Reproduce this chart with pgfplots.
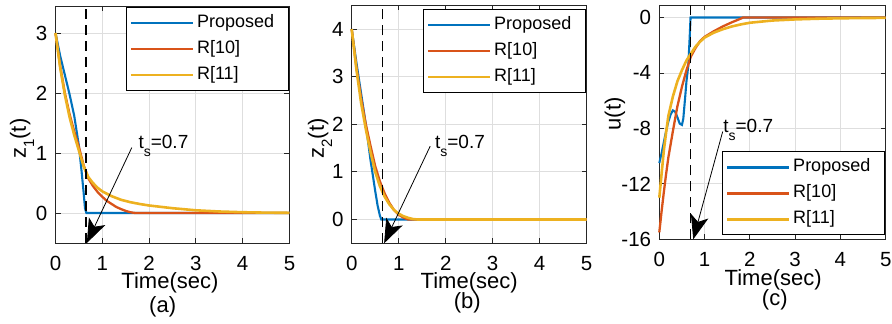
\documentclass[border=0pt]{standalone}
\usepackage{fontspec}
\setmainfont{Liberation Sans}
\usepackage{pgfplots}
\pgfplotsset{compat=1.18}
\usetikzlibrary{arrows.meta}
\definecolor{mblue}{rgb}{0,0.447,0.741}
\definecolor{mred}{rgb}{0.85,0.325,0.098}
\definecolor{myel}{rgb}{0.929,0.694,0.125}
\newcommand{\tickfont}{\fontsize{20.5}{24}\selectfont}
\newcommand{\labfont}{\fontsize{22}{26}\selectfont}
\newcommand{\legfont}{\fontsize{18}{20}\selectfont}
\newcommand{\annfont}{\fontsize{19}{22}\selectfont}
\newcommand{\sub}[1]{\raisebox{-0.38em}{\fontsize{15}{15}\selectfont #1}}
\newcommand{\annsub}[1]{\raisebox{-0.42em}{\fontsize{14}{14}\selectfont #1}}
\tikzset{
  dashl/.style={black, line width=1.3pt, dash pattern=on 10pt off 6pt},
  arr/.style={black, line width=0.8pt, -{Stealth[length=24pt,width=18pt,inset=6pt]}},
}
\pgfplotsset{
  myax/.style={
    scale only axis,
    xmin=0, xmax=5,
    xtick={0,1,2,3,4,5},
    grid=major,
    major grid style={black!13, line width=0.8pt},
    axis line style={black!85, line width=0.8pt},
    tick align=inside,
    major tick length=5pt,
    tick style={black!85, line width=0.8pt},
    /pgf/number format/assume math mode=true,
    tick label style={font=\tickfont},
    xticklabel style={inner sep=0pt, yshift=-13pt},
    yticklabel style={inner sep=0pt, xshift=-8pt},
    label style={font=\labfont},
    clip=false,
    legend cell align=left,
    legend style={draw=black, line width=0.8pt, font=\legfont,
      inner xsep=3.5pt, inner ysep=5pt, row sep=5pt, column sep=1pt,
      nodes={inner sep=2pt, text height=13pt, text depth=4pt, font=\legfont}},
    legend image code/.code={\draw[##1, line width=2.3pt] (0pt,0pt) -- (62pt,0pt);},
  },
  pblue/.style={mblue, line width=2.1pt},
  pred/.style={mred, line width=2.3pt},
  pyel/.style={myel, line width=2.6pt},
}
\begin{document}
\begin{tikzpicture}
\path[use as bounding box] (0pt,0pt) rectangle (892pt,324pt);
% ---------------- (a)
\begin{axis}[myax, at={(55.5pt,81pt)}, anchor=south west,
  width=234pt, height=237pt, ymin=-0.5, ymax=3.45, ytick={0,1,2,3},
  xlabel={Time(sec)}, xlabel style={at={(axis description cs:0.489,-0.167)}, anchor=center},
  ylabel={z\sub{1}(t)}, ylabel style={at={(axis description cs:-0.143,0.44)}, anchor=center},
  legend style={at={(1,1)}, anchor=north east, xshift=-0.5pt, yshift=-1.3pt}]
\addplot[pblue] coordinates {(0,3) (0.1,2.62) (0.2,2.3) (0.3,1.98) (0.4,1.62) (0.5,1.12) (0.55,0.75) (0.6,0.35) (0.63,0.08) (0.66,0) (1,0) (2,0) (3,0) (4,0) (5,0)};
\addplot[pred] coordinates {(0,3) (0.1,2.45) (0.2,2.0) (0.3,1.65) (0.4,1.36) (0.5,1.1) (0.6,0.8) (0.7,0.58) (0.8,0.45) (0.9,0.35) (1.0,0.27) (1.1,0.2) (1.2,0.15) (1.3,0.1) (1.4,0.065) (1.5,0.035) (1.6,0.012) (1.7,0) (2,0) (3,0) (4,0) (5,0)};
\addplot[pyel] coordinates {(0,3) (0.1,2.42) (0.2,1.97) (0.3,1.6) (0.4,1.3) (0.5,1.04) (0.6,0.78) (0.7,0.6) (0.8,0.5) (0.9,0.42) (1.0,0.36) (1.2,0.28) (1.4,0.22) (1.6,0.18) (1.8,0.15) (2.0,0.125) (2.5,0.08) (3,0.045) (3.5,0.025) (4,0.013) (4.5,0.006) (5,0.003)};
\legend{Proposed\hspace*{9pt},R[10],R[11]}
\draw[dashl] (axis cs:0.65,-0.5) -- (axis cs:0.65,3.45);
\draw[arr] (axis cs:1.63,1.09) -- (axis cs:0.67,-0.5);
\node[anchor=base west, inner sep=0pt, font=\annfont] at (axis cs:1.77,1.07) {t\annsub{s}=0.7};
\node[font=\labfont] at (axis description cs:0.458,-0.27) {(a)};
\end{axis}
% ---------------- (b)
\begin{axis}[myax, at={(351.7pt,80.7pt)}, anchor=south west,
  width=235pt, height=238pt, ymin=-0.5, ymax=4.5, ytick={0,1,2,3,4},
  xlabel={Time(sec)}, xlabel style={at={(axis description cs:0.5,-0.168)}, anchor=center},
  ylabel={z\sub{2}(t)}, ylabel style={at={(axis description cs:-0.135,0.44)}, anchor=center},
  legend style={at={(1,1)}, anchor=north east, xshift=-0.5pt, yshift=-4pt}]
\addplot[pblue] coordinates {(0,4) (0.1,3.3) (0.2,2.65) (0.3,2.0) (0.4,1.25) (0.5,0.6) (0.55,0.3) (0.6,0.08) (0.63,0) (1,0) (2,0) (3,0) (4,0) (5,0)};
\addplot[pred] coordinates {(0,4) (0.1,3.2) (0.2,2.55) (0.3,2.0) (0.4,1.55) (0.5,1.12) (0.6,0.8) (0.7,0.55) (0.8,0.35) (0.9,0.2) (1.0,0.1) (1.1,0.04) (1.2,0) (2,0) (3,0) (4,0) (5,0)};
\addplot[pyel] coordinates {(0,4) (0.1,3.15) (0.2,2.45) (0.3,1.9) (0.4,1.42) (0.5,1.0) (0.6,0.7) (0.7,0.48) (0.8,0.32) (0.9,0.2) (1.0,0.12) (1.1,0.07) (1.2,0.035) (1.3,0.01) (1.4,0) (2,0) (3,0) (4,0) (5,0)};
\legend{Proposed\hspace*{9pt},R[10],R[11]}
\draw[dashl] (axis cs:0.66,-0.5) -- (axis cs:0.66,4.5);
\draw[arr] (axis cs:1.67,1.54) -- (axis cs:0.69,-0.5);
\node[anchor=base west, inner sep=0pt, font=\annfont] at (axis cs:1.77,1.5) {t\annsub{s}=0.7};
\node[font=\labfont] at (axis description cs:0.492,-0.25) {(b)};
\end{axis}
% ---------------- (c)
\begin{axis}[myax, at={(659.3pt,84.7pt)}, anchor=south west,
  width=226.4pt, height=234.3pt, ymin=-16, ymax=0.9, ytick={0,-4,-8,-12,-16},
  xlabel={Time(sec)}, xlabel style={at={(axis description cs:0.503,-0.174)}, anchor=center},
  ylabel={u(t)}, ylabel style={at={(axis description cs:-0.196,0.535)}, anchor=center},
  legend style={at={(1,0)}, anchor=south east, xshift=-0.5pt, yshift=4pt}]
\addplot[pblue] coordinates {(0,-10.5) (0.05,-9.8) (0.1,-9.0) (0.15,-8.2) (0.2,-7.5) (0.25,-7.0) (0.3,-6.7) (0.35,-6.8) (0.4,-7.2) (0.45,-7.65) (0.5,-7.75) (0.53,-7.3) (0.57,-5.8) (0.6,-4.6) (0.64,-3.5) (0.67,-1.5) (0.69,0) (1,0) (2,0) (3,0) (4,0) (5,0)};
\addplot[pred] coordinates {(0,-15.5) (0.05,-14.0) (0.1,-12.6) (0.15,-11.3) (0.2,-10.1) (0.3,-8.2) (0.4,-6.4) (0.5,-5.0) (0.6,-3.8) (0.7,-2.8) (0.8,-2.2) (0.9,-1.7) (1.0,-1.4) (1.2,-1.0) (1.4,-0.65) (1.6,-0.35) (1.8,-0.08) (1.85,0) (2,0) (3,0) (4,0) (5,0)};
\addplot[pyel] coordinates {(0,-13) (0.05,-11.3) (0.1,-9.6) (0.15,-8.3) (0.2,-7.1) (0.3,-5.7) (0.4,-4.6) (0.5,-3.8) (0.6,-3.1) (0.7,-2.6) (0.8,-2.1) (0.9,-1.75) (1.0,-1.45) (1.2,-1.1) (1.4,-0.85) (1.6,-0.65) (1.8,-0.5) (2.0,-0.38) (2.5,-0.22) (3,-0.14) (3.5,-0.09) (4,-0.06) (4.5,-0.04) (5,-0.03)};
\legend{Proposed\hspace*{9pt},R[10],R[11]}
\draw[dashl] (axis cs:0.69,-16) -- (axis cs:0.69,0.9);
\draw[arr] (axis cs:1.40,-8.23) -- (axis cs:0.75,-16);
\node[anchor=base west, inner sep=0pt, font=\annfont] at (axis cs:1.41,-8.32) {t\annsub{s}=0.7};
\node[font=\labfont] at (axis description cs:0.51,-0.258) {(c)};
\end{axis}
\end{tikzpicture}
\end{document}
